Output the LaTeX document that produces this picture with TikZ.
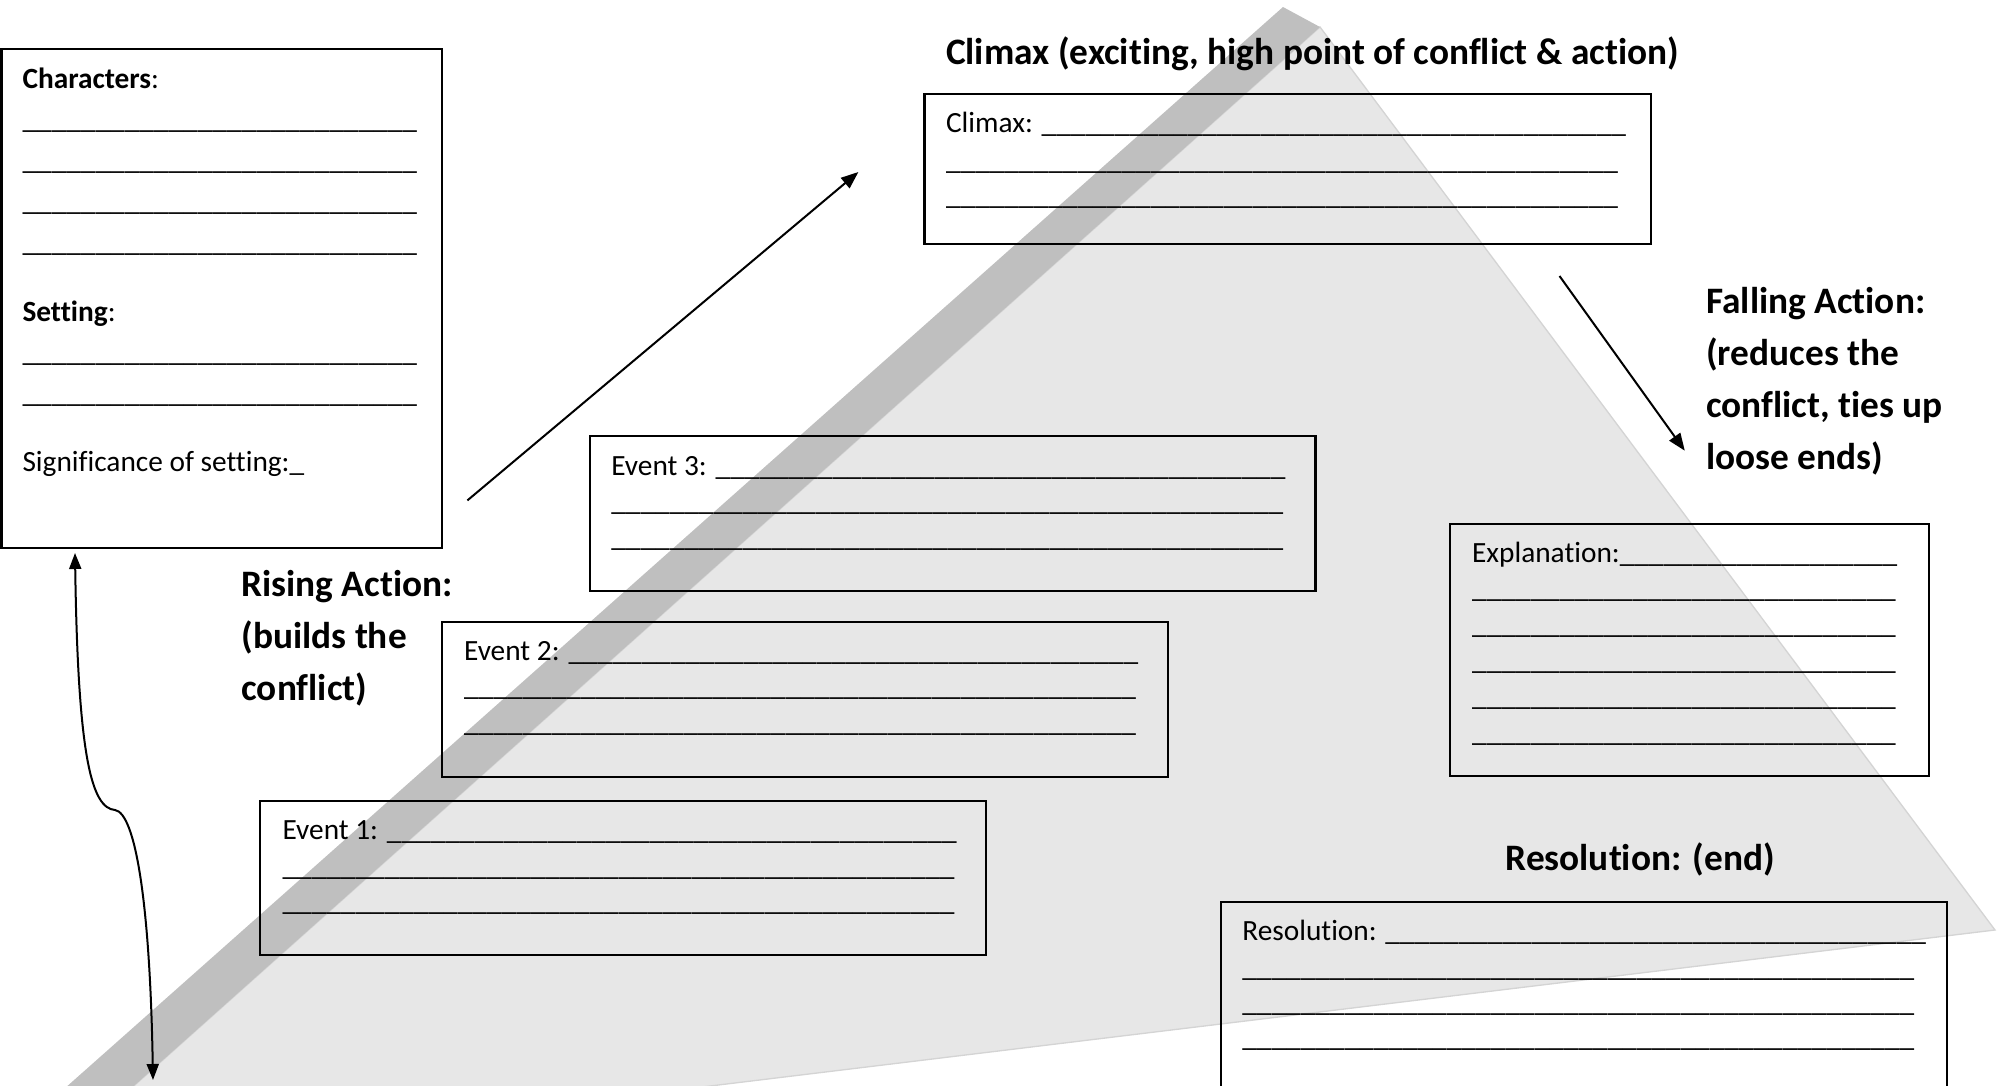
\documentclass[tikz,border=0pt]{standalone}
\usepackage{fontspec}
\setmainfont{Carlito}[Ligatures=NoCommon]
\usetikzlibrary{arrows.meta,fit}
\definecolor{facelight}{HTML}{E7E7E7}
\definecolor{facedark}{HTML}{BFBFBF}
\definecolor{faceedge}{HTML}{D4D4D4}
\newcommand\blanks[1]{\foreach\ii in {1,...,#1}{\textunderscore}}
\tikzset{
  box/.style={draw, line width=0.8pt, inner sep=0pt},
  body/.style={anchor=base west, inner sep=0pt, font=\fontsize{11}{13}\selectfont},
  head/.style={anchor=base west, inner sep=0pt, font=\fontsize{14}{17}\selectfont\bfseries},
  conn/.style={line width=0.75pt, -{Triangle[length=6.5pt,width=5pt]}},
  dbl/.style={line width=0.75pt, {Triangle[length=6pt,width=4.5pt]}-{Triangle[length=6pt,width=4.5pt]}}
}
\begin{document}
\begin{tikzpicture}[x=0.375pt, y=-0.375pt]
\useasboundingbox (0,0) rectangle (1997,1086);
\clip (0,0) rectangle (1997,1086);
% pyramid
\fill[facelight, draw=faceedge, line width=0.5pt] (1320,27) -- (1995,930) -- (43,1167) -- cycle;
\fill[facedark] (1283,7) -- (1320,27) -- (43,1167) -- (-16,1160) -- cycle;

% Characters box
\node[box, fit={(1.5,49) (442,548)}] (chars) {};
\node[body] (chhead) at (22,88.8) {\textbf{Characters}:};
\foreach \yy [count=\k] in {128,169,210,251}
  \node[body] (chl\k) at (22,\yy) {\blanks{27}};
\node[body] (sethead) at (22,321.5) {\textbf{Setting}:};
\foreach \yy [count=\k] in {361.6,402.6}
  \node[body] (setl\k) at (22,\yy) {\blanks{27}};
\node[body] (signif) at (22,471.5) {Significance of setting:\textunderscore};

% Climax
\node[head] (climaxhead) at (945.5,64) {Climax (exciting, high point of conflict \& action)};
\node[box, fit={(924.5,94.3) (1650.7,244.3)}] (climax) {};
\node[body] (cl1) at (945.5,132.7) {Climax: \blanks{40}};
\foreach \yy [count=\k] in {169,204.3}
  \node[body] (clx\k) at (945.5,\yy) {\blanks{46}};

% Event 3
\node[box, fit={(589.6,435.7) (1315.5,590.7)}] (ev3) {};
\node[body] (ev3a) at (610.8,475) {Event 3: \blanks{39}};
\foreach \yy [count=\k] in {510,546.7}
  \node[body] (ev3l\k) at (610.8,\yy) {\blanks{46}};

% Event 2
\node[box, fit={(442.4,621.7) (1167.6,776.7)}] (ev2) {};
\node[body] (ev2a) at (463.6,660) {Event 2: \blanks{39}};
\foreach \yy [count=\k] in {695,731.7}
  \node[body] (ev2l\k) at (463.6,\yy) {\blanks{46}};

% Event 1
\node[box, fit={(260,800.6) (986,955)}] (ev1) {};
\node[body] (ev1a) at (282,839) {Event 1: \blanks{39}};
\foreach \yy [count=\k] in {875,910.8}
  \node[body] (ev1l\k) at (282,\yy) {\blanks{46}};

% Rising action label
\node[head] (ris1) at (241,596) {Rising Action:};
\node[head] (ris2) at (241,648) {(builds the};
\node[head] (ris3) at (241,700) {conflict)};

% Falling action label
\node[head] (fal1) at (1705.8,313) {Falling Action:};
\node[head] (fal2) at (1705.8,365) {(reduces the};
\node[head] (fal3) at (1705.8,417) {conflict, ties up};
\node[head] (fal4) at (1705.8,469) {loose ends)};

% Explanation box
\node[box, fit={(1450.3,523.7) (1929.3,776.3)}] (expl) {};
\node[body] (expa) at (1471.6,562.3) {Explanation:\blanks{19}};
\foreach \yy [count=\k] in {597,633.8,669.6,705.7,741.5}
  \node[body] (expl\k) at (1471.6,\yy) {\blanks{29}};

% Resolution
\node[head] (reshead) at (1505,870) {Resolution: (end)};
\node[box, fit={(1221.3,901.7) (1946.9,1130)}] (res) {};
\node[body] (resa) at (1241.8,940) {Resolution: \blanks{37}};
\foreach \yy [count=\k] in {976.7,1011.7,1046.7}
  \node[body] (resl\k) at (1241.8,\yy) {\blanks{46}};

% arrows
\coordinate (risS) at (467.4,500.4);
\coordinate (risE) at (858.4,172);
\draw[conn] (risS) -- (risE);
\coordinate (falS) at (1559.5,276);
\coordinate (falE) at (1684.8,450.7);
\draw[conn] (falS) -- (falE);
\coordinate (brT) at (75,553);
\coordinate (brM) at (115,810);
\coordinate (brB) at (153,1080);
\draw[dbl] (brT) .. controls (78,760) and (92,808) .. (brM)
  .. controls (135,813) and (150,900) .. (brB);
\end{tikzpicture}
\end{document}
